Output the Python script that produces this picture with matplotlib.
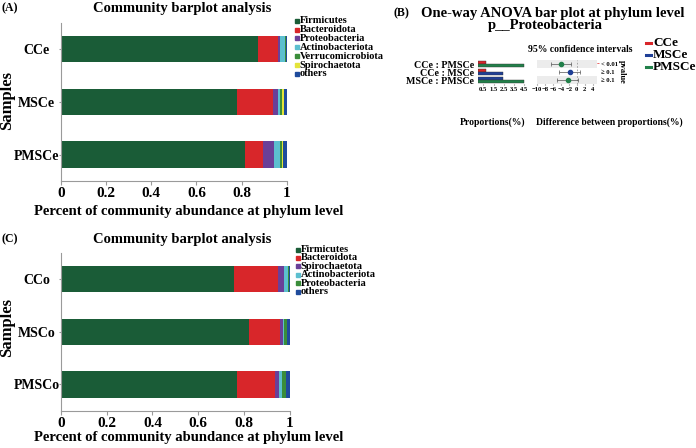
import matplotlib
matplotlib.use('Agg')
import matplotlib.pyplot as plt
from matplotlib.lines import Line2D

plt.rcParams['font.family'] = ['Liberation Serif', 'DejaVu Sans']
plt.rcParams['font.weight'] = 'bold'

# ---------------- data ----------------
samples_a = ['CCe', 'MSCe', 'PMSCe']
phyla_a = ['Firmicutes', 'Bacteroidota', 'Proteobacteria', 'Actinobacteriota',
           'Verrucomicrobiota', 'Spirochaetota', 'others']
a_firmicutes = [0.872, 0.781, 0.816]
a_bacteroidota = [0.090, 0.156, 0.080]
a_proteobacteria = [0.006, 0.024, 0.045]
a_actinobacteriota = [0.024, 0.010, 0.027]
a_verrucomicrobiota = [0.004, 0.005, 0.011]
a_spirochaetota = [0.001, 0.011, 0.004]
a_others = [0.003, 0.013, 0.017]

samples_c = ['CCo', 'MSCo', 'PMSCo']
phyla_c = ['Firmicutes', 'Bacteroidota', 'Spirochaetota', 'Actinobacteriota',
           'Proteobacteria', 'others']
c_firmicutes = [0.757, 0.823, 0.767]
c_bacteroidota = [0.189, 0.133, 0.167]
c_spirochaetota = [0.028, 0.012, 0.019]
c_actinobacteriota = [0.018, 0.007, 0.011]
c_proteobacteria = [0.002, 0.013, 0.019]
c_others = [0.006, 0.012, 0.017]

groups_b = ['CCe', 'MSCe', 'PMSCe']
group_means_b = [0.75, 2.4, 4.5]
comparisons_b = ['CCe : PMSCe', 'CCe : MSCe', 'MSCe : PMSCe']
pairs_b = [(0, 2), (0, 1), (1, 2)]
diff_b = [-4.0, -1.8, -2.3]
ci_low_b = [-6.6, -4.5, -5.0]
ci_high_b = [-1.45, 0.9, 0.2]
pvals_b = ['< 0.01', '\u2265 0.1', '\u2265 0.1']

# ---------------- style ----------------
colors_a = ['#1a5c37', '#d8262a', '#6a3f98', '#5cbfcf', '#3a8d3a', '#e4e43a', '#1f4b9c']
colors_c = ['#1a5c37', '#d8262a', '#6a3f98', '#5cbfcf', '#3a8d3a', '#1f4b9c']
group_colors_b = ['#d8262a', '#1f3f96', '#22804a']

W, H = 696, 448
fig = plt.figure(figsize=(W / 100, H / 100), dpi=100)


def rect(l, t, r, b):
    return [l / W, 1 - b / H, (r - l) / W, (b - t) / H]


def fx(x):
    return x / W


def fy(y):
    return 1 - y / H


def stacked_panel(box, samples, phyla, series, colors, title, tag, leg_x, leg_y0, leg_dy,
                  leg_fs, title_y, xlab_y, samp_y):
    ax = fig.add_axes(rect(*box))
    left = [0.0] * len(samples)
    ypos = list(range(len(samples)))
    for vals, c in zip(series, colors):
        ax.barh(ypos, vals, left=left, height=0.5, color=c, linewidth=0)
        left = [l + v for l, v in zip(left, vals)]
    ax.set_xlim(0, 1)
    ax.set_ylim(2.5, -0.5)
    ax.set_xticks([0, 0.2, 0.4, 0.6, 0.8, 1.0])
    ax.set_xticklabels(['0', '0.2', '0.4', '0.6', '0.8', '1'])
    ax.set_yticks(ypos)
    ax.set_yticklabels(samples, ha='center')
    for s in ['top', 'right']:
        ax.spines[s].set_visible(False)
    for s in ['left', 'bottom']:
        ax.spines[s].set_color('#9a9a9a')
        ax.spines[s].set_linewidth(0.8)
    ax.tick_params(axis='x', length=3, color='#9a9a9a', pad=1.5, labelsize=11)
    ax.tick_params(axis='y', length=1.5, color='#9a9a9a', pad=16, labelsize=10)
    ax.set_xlabel('Percent of community abundance at phylum level', fontsize=10.5,
                  fontweight='bold')
    x0, x1 = box[0], box[2]
    yt, yb = box[1], box[3]
    ax.xaxis.set_label_coords((189 - x0) / (x1 - x0), (yb - xlab_y) / (yb - yt))
    ax.xaxis.label.set_va('center')
    ax.set_ylabel('Samples', fontsize=12, fontweight='bold')
    ax.yaxis.set_label_coords((7 - x0) / (x1 - x0), (yb - samp_y) / (yb - yt))
    ax.yaxis.label.set_va('center')
    fig.text(fx(181.7), fy(title_y), title, ha='center', va='center', fontsize=10.5)
    fig.text(fx(2), fy(title_y), tag, ha='left', va='center', fontsize=8.5)
    for i, (name, c) in enumerate(zip(phyla, colors)):
        y = leg_y0 + i * leg_dy
        fig.add_artist(Line2D([fx(leg_x)], [fy(y)], marker='s', ms=2.3, color=c,
                              linestyle='none', transform=fig.transFigure))
        fig.text(fx(leg_x + 2.2), fy(y), name, ha='left', va='center', fontsize=leg_fs)
    return ax


stacked_panel((60.7, 22.7, 287, 181), samples_a, phyla_a,
              [a_firmicutes, a_bacteroidota, a_proteobacteria, a_actinobacteriota,
               a_verrucomicrobiota, a_spirochaetota, a_others],
              colors_a, 'Community barplot analysis', '(A)',
              297.3, 20.8, 8.85, 7.5, 8.3, 211.7, 100)

stacked_panel((60.7, 253, 290, 410.7), samples_c, phyla_c,
              [c_firmicutes, c_bacteroidota, c_spirochaetota, c_actinobacteriota,
               c_proteobacteria, c_others],
              colors_c, 'Community barplot analysis', '(C)',
              298.3, 249.5, 8.45, 7.6, 239, 437.3, 327.3)

# ---------------- panel B ----------------
fig.text(fx(401), fy(13.5), '(B)', ha='center', va='center', fontsize=8.5)
fig.text(fx(553), fy(13), 'One-way ANOVA bar plot at phylum level', ha='center',
         va='center', fontsize=10.5)
fig.text(fx(545), fy(25.5), 'p__Proteobacteria', ha='center', va='center', fontsize=10.5)

axb = fig.add_axes(rect(478.3, 60, 525, 84.3))
rows = list(range(len(comparisons_b)))
for r, (g1, g2) in zip(rows, pairs_b):
    axb.barh(r - 0.2, group_means_b[g1], height=0.4, color=group_colors_b[g1],
             edgecolor='#333333', linewidth=0.3)
    axb.barh(r + 0.2, group_means_b[g2], height=0.4, color=group_colors_b[g2],
             edgecolor='#333333', linewidth=0.3)
axb.set_xlim(0, 4.6)
axb.set_ylim(2.5, -0.5)
axb.set_xticks([0.5, 1.5, 2.5, 3.5, 4.5])
axb.set_xticklabels(['0.5', '1.5', '2.5', '3.5', '4.5'])
axb.set_yticks(rows)
axb.set_yticklabels(comparisons_b)
for s in axb.spines.values():
    s.set_visible(False)
axb.tick_params(axis='x', length=1, pad=1, labelsize=4.8, color='#777777')
axb.tick_params(axis='y', length=0, pad=3, labelsize=7.2)

axc = fig.add_axes(rect(536.5, 60, 596.5, 84.3))
for r in rows:
    if r % 2 == 0:
        axc.axhspan(r - 0.5, r + 0.5, color='#ececec', linewidth=0, zorder=0)
axc.axvline(0, color='#999999', linestyle=(0, (2, 2)), linewidth=0.6, zorder=1)
for r, (g1, g2), d, lo, hi in zip(rows, pairs_b, diff_b, ci_low_b, ci_high_b):
    pc = group_colors_b[g2] if group_means_b[g2] > group_means_b[g1] else group_colors_b[g1]
    axc.errorbar([d], [r], xerr=[[d - lo], [hi - d]], fmt='o', ms=3, color=pc,
                 ecolor='#555555', elinewidth=0.5, capsize=1.2, capthick=0.5, zorder=3)
axc.set_xlim(-10.2, 5.0)
axc.set_ylim(2.5, -0.5)
axc.set_xticks([-10, -8, -6, -4, -2, 0, 2, 4])
axc.set_yticks([])
for s in axc.spines.values():
    s.set_visible(False)
axc.tick_params(axis='x', length=1, pad=1, labelsize=4.8, color='#777777')
for r, p in zip(rows, pvals_b):
    axc.text(1.08, r, p, transform=axc.get_yaxis_transform(), ha='left', va='center',
             fontsize=4.8)
axc.text(1.005, 0, '-', transform=axc.get_yaxis_transform(), ha='left', va='center',
         fontsize=6, color='#e03030')
axc.text(1.43, 1, 'pvalue', transform=axc.get_yaxis_transform(), ha='center',
         va='center', rotation=-90, fontsize=6)

fig.text(fx(580), fy(49.3), '95% confidence intervals', ha='center', va='center',
         fontsize=6.9)
fig.text(fx(492.5), fy(121.7), 'Proportions(%)', ha='center', va='center', fontsize=6.9)
fig.text(fx(609), fy(121.7), 'Difference between proportions(%)', ha='center',
         va='center', fontsize=6.9)

for i, (g, c) in enumerate(zip(groups_b, group_colors_b)):
    y = 42.7 + i * 12
    fig.add_artist(Line2D([fx(645.5), fx(651)], [fy(y), fy(y)], color=c, lw=2.2,
                          transform=fig.transFigure))
    fig.text(fx(653), fy(y), g, ha='left', va='center', fontsize=9.5)

fig.savefig('out.png', dpi=100)
